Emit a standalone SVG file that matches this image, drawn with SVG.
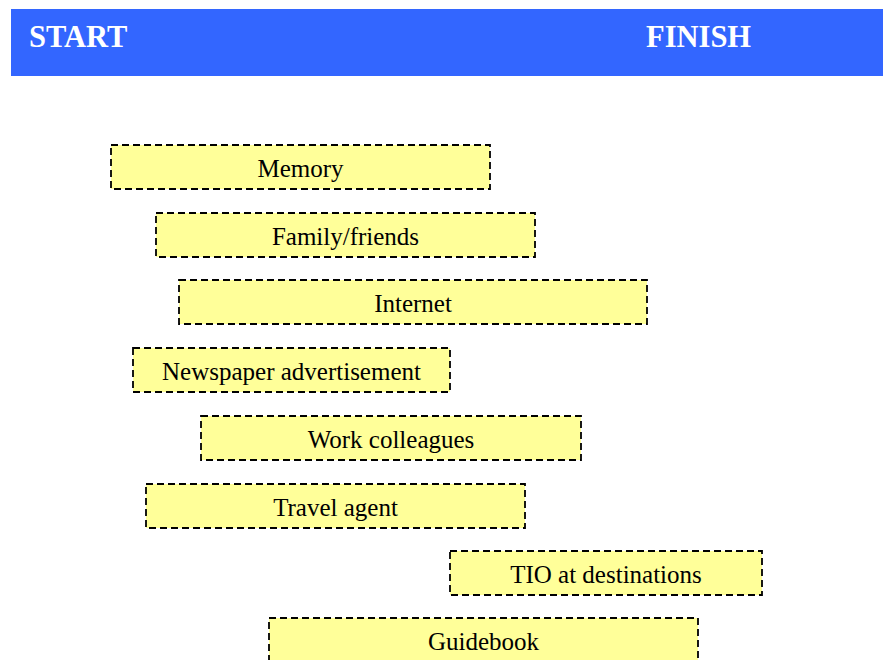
<svg xmlns="http://www.w3.org/2000/svg" width="883" height="660" viewBox="0 0 883 660">
  <style>
    .bar { fill: #3366FF; }
    .head { font-family: "Liberation Serif", "Times New Roman", serif; font-weight: bold; font-size: 30.5px; fill: #FFFFFF; }
    .box { fill: #FFFF99; stroke: #000000; stroke-width: 1.8; stroke-dasharray: 7 4; }
    .label { font-family: "Liberation Serif", "Times New Roman", serif; font-size: 25px; fill: #000000; text-anchor: middle; }
  </style>
  <rect width="883" height="660" fill="#FFFFFF"/>

  <!-- header band -->
  <g id="header">
    <rect class="bar" x="11" y="9" width="872" height="67"/>
    <text class="head" x="29" y="47">START</text>
    <text class="head" x="646" y="47">FINISH</text>
  </g>

  <!-- information sources -->
  <g id="memory">
    <rect class="box" x="111" y="145" width="379" height="44"/>
    <text class="label" x="300.5" y="177">Memory</text>
  </g>
  <g id="family-friends">
    <rect class="box" x="156" y="213" width="379" height="44"/>
    <text class="label" x="345.5" y="245">Family/friends</text>
  </g>
  <g id="internet">
    <rect class="box" x="179" y="280" width="468" height="44"/>
    <text class="label" x="413" y="312">Internet</text>
  </g>
  <g id="newspaper">
    <rect class="box" x="133" y="348" width="317" height="44"/>
    <text class="label" x="291.5" y="380">Newspaper advertisement</text>
  </g>
  <g id="work-colleagues">
    <rect class="box" x="201" y="416" width="380" height="44"/>
    <text class="label" x="391" y="448">Work colleagues</text>
  </g>
  <g id="travel-agent">
    <rect class="box" x="146" y="484" width="379" height="44"/>
    <text class="label" x="335.5" y="516">Travel agent</text>
  </g>
  <g id="tio">
    <rect class="box" x="450" y="551" width="312" height="44"/>
    <text class="label" x="606" y="583">TIO at destinations</text>
  </g>
  <g id="guidebook">
    <rect class="box" x="269" y="618" width="429" height="44"/>
    <text class="label" x="483.5" y="650">Guidebook</text>
  </g>

  <g id="connectors"></g>
</svg>
